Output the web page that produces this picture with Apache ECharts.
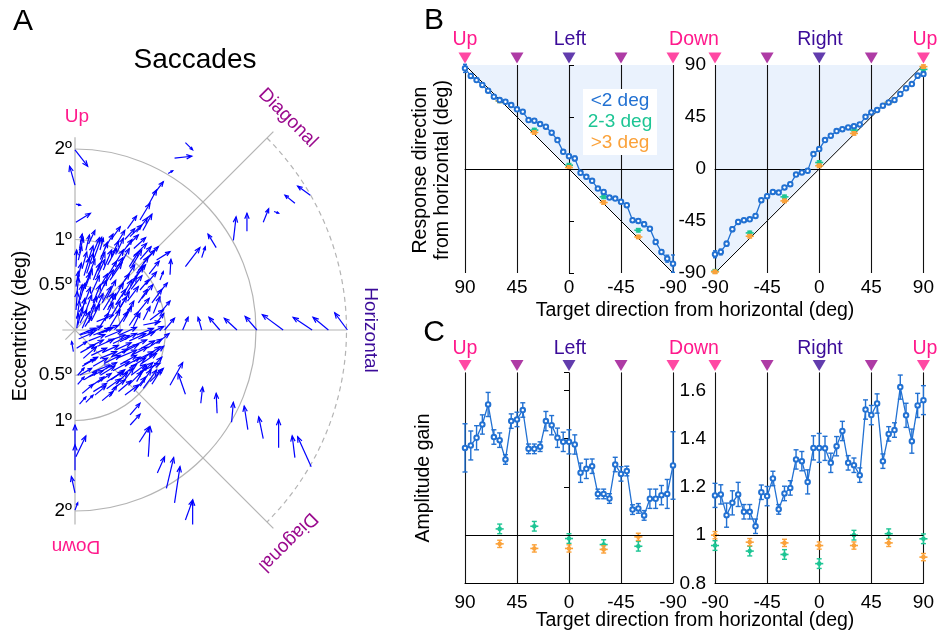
<!DOCTYPE html>
<html>
<head>
<meta charset="utf-8">
<script src="https://cdn.jsdelivr.net/npm/echarts@6.0.0/dist/echarts.min.js"></script>
<style>
  html, body { margin: 0; padding: 0; background: #fff; }
  #main { width: 937px; height: 631px; }
</style>
</head>
<body>
<div id="main"></div>
<script>
// ---- panel A: saccade vectors, [x0, y0, x1, y1] in deg (tail -> head)
const outerArrows = [
  [0.00,1.99,0.14,1.81],[0.00,1.60,-0.06,1.81],[1.22,2.07,1.30,1.99],[1.10,1.90,1.29,1.92],
  [1.03,1.73,1.08,1.76],[0.01,1.19,0.17,1.29],[0.01,1.39,0.06,1.38],[1.56,0.91,1.47,1.06],
  [1.22,0.70,1.38,0.91],[1.40,0.80,1.44,0.92],[1.75,0.99,1.78,1.25],[1.90,1.09,1.90,1.29],
  [2.08,1.19,2.14,1.34],[2.20,1.31,2.25,1.29],[2.43,1.40,2.32,1.49],[2.60,1.49,2.46,1.59],
  [1.05,0.61,1.06,0.78],
  [0.99,0,1.10,0.13],[1.19,0,1.25,0.14],[1.40,0,1.36,0.14],[1.60,0,1.48,0.14],
  [1.79,0,1.65,0.13],[2.01,0,1.88,0.15],[2.30,0,2.07,0.17],[2.62,0,2.41,0.14],
  [2.80,0,2.63,0.14],[3.01,0,2.87,0.19],
  [1.22,-0.71,1.14,-0.48],[1.05,-0.61,1.19,-0.36],[1.39,-0.81,1.41,-0.63],[1.57,-0.92,1.56,-0.70],
  [1.73,-1.02,1.75,-0.80],[1.91,-1.10,1.87,-0.84],[2.08,-1.20,2.03,-0.96],[2.25,-1.30,2.25,-0.99],
  [2.43,-1.41,2.40,-1.17],[2.61,-1.51,2.46,-1.18],[0.61,-1.05,0.72,-0.93],[0.81,-1.40,0.83,-1.07],
  [0.71,-1.24,0.82,-1.07],[0.91,-1.58,0.99,-1.40],[1.01,-1.75,1.09,-1.41],[1.10,-1.91,1.16,-1.51],
  [1.22,-2.10,1.30,-1.88],[1.30,-2.15,1.30,-1.88],[0.00,-1.55,0.00,-1.27],[0.00,-1.27,0.00,-1.05],
  [0.01,-1.40,0.12,-1.17],[0.00,-1.80,-0.04,-1.62],[0.00,-1.99,0.03,-1.91]
]
const denseUpperArrows = [
  [0.011,0.221,0.026,0.424],[0.011,0.479,0.037,0.645],[0.011,0.700,0.018,0.884],[0.110,0.184,0.184,0.387],
  [0.092,0.442,0.166,0.626],[0.129,0.626,0.203,0.847],[0.203,0.773,0.295,1.024],[0.239,0.331,0.350,0.552],
  [0.313,0.479,0.424,0.663],[0.387,0.552,0.516,0.737],[0.424,0.700,0.534,0.884],[0.460,0.847,0.534,1.013],
  [0.571,0.921,0.700,1.050],[0.608,1.031,0.737,1.160],[0.718,1.215,0.829,1.400],[0.810,1.381,0.902,1.547],
  [0.866,1.492,0.976,1.639],[0.516,0.368,0.626,0.552],[0.626,0.516,0.755,0.700],[0.681,0.626,0.810,0.810],
  [0.755,0.737,0.884,0.884],[0.902,0.773,1.050,0.866],[0.939,0.552,0.976,0.645],[0.755,0.110,0.829,0.258],
  [0.866,0.184,0.939,0.368],[0.829,0.110,0.976,0.221],[0.276,0.037,0.368,0.184],[0.387,0.037,0.497,0.221],
  [0.534,0.092,0.626,0.258],[0.645,0.037,0.718,0.184],[0.055,0.074,0.129,0.221],[0.166,0.184,0.239,0.368],
  [0.313,0.221,0.424,0.405],[0.424,0.331,0.534,0.516],[0.055,0.331,0.110,0.516],[0.203,0.552,0.276,0.737],
  [0.313,0.663,0.405,0.884],[0.037,0.773,0.074,0.921],[0.571,0.405,0.681,0.589],[0.718,0.442,0.810,0.552],
  [0.110,0.037,0.184,0.147],[0.460,0.184,0.571,0.368],[0.276,0.884,0.313,1.013],[0.626,0.700,0.737,0.884],
  [0.645,0.810,0.792,0.958],[0.03,0.05,0.08,0.25],[0.15,0.08,0.22,0.28],[0.20,0.30,0.28,0.50],
  [0.33,0.10,0.42,0.30],[0.50,0.25,0.60,0.42],[0.35,0.35,0.45,0.55],[0.10,0.60,0.16,0.80],
  [0.25,0.65,0.33,0.86],[0.55,0.55,0.66,0.72],[0.40,0.80,0.48,0.98],[0.05,0.85,0.09,1.02],
  [0.70,0.30,0.80,0.45],[0.60,0.70,0.70,0.86],[0.15,0.95,0.22,1.10],
  [0.02,0.12,0.05,0.32],[0.04,0.30,0.08,0.50],[0.03,0.55,0.07,0.74],[0.05,0.90,0.08,1.06],
  [0.08,0.02,0.16,0.20],[0.10,0.28,0.17,0.47],[0.12,0.48,0.19,0.67],[0.14,0.75,0.20,0.93],
  [0.18,0.10,0.27,0.28],[0.22,0.20,0.31,0.40],[0.18,0.40,0.27,0.60],[0.26,0.45,0.36,0.62],
  [0.30,0.30,0.40,0.48],[0.24,0.58,0.33,0.78],[0.35,0.58,0.46,0.76],[0.28,0.78,0.36,0.97],
  [0.36,0.72,0.46,0.90],[0.40,0.15,0.50,0.32],[0.45,0.28,0.56,0.45],[0.48,0.45,0.60,0.62],
  [0.42,0.62,0.53,0.80],[0.50,0.72,0.60,0.90],[0.55,0.15,0.65,0.32],[0.58,0.32,0.70,0.48],
  [0.62,0.45,0.74,0.60],[0.66,0.58,0.78,0.72],[0.52,0.85,0.63,1.00],[0.70,0.20,0.82,0.35],
  [0.74,0.35,0.86,0.50],[0.78,0.50,0.90,0.64],[0.72,0.78,0.84,0.92],[0.82,0.62,0.93,0.76],
  [0.85,0.30,0.96,0.45],[0.88,0.05,0.98,0.18],[0.60,0.05,0.70,0.20],[0.48,0.05,0.58,0.20],
  [0.36,0.22,0.45,0.40],[0.15,0.60,0.22,0.78],[0.08,0.68,0.13,0.86],[0.02,0.40,0.04,0.58],
  [0.07,0.15,0.11,0.35],[0.20,0.85,0.27,1.02],[0.33,0.90,0.42,1.06],[0.40,1.00,0.50,1.14],
  [0.55,1.00,0.66,1.12],[0.46,0.95,0.55,1.10],[0.65,0.90,0.78,1.02],[0.80,0.80,0.92,0.92],
  [0.92,0.40,1.02,0.52],[0.95,0.20,1.05,0.32],[0.02,0.02,0.04,0.18],[0.12,0.88,0.16,1.05],
  [0.68,1.08,0.80,1.24],[0.75,1.10,0.85,1.28],[0.58,1.12,0.68,1.26]
]
const denseLowerArrows = [
  [0.129,-0.203,0.313,-0.110],[0.092,-0.313,0.239,-0.184],[0.203,-0.055,0.387,0.018],[0.350,-0.129,0.552,-0.055],
  [0.239,0.092,0.424,0.166],[0.497,-0.129,0.681,-0.037],[0.571,-0.203,0.792,-0.110],[0.681,-0.055,0.866,0.018],
  [0.755,0.055,0.939,0.092],[0.276,-0.313,0.460,-0.239],[0.460,-0.313,0.681,-0.221],[0.645,-0.350,0.866,-0.239],
  [0.718,-0.460,0.939,-0.368],[0.829,-0.571,0.976,-0.424],[0.203,-0.460,0.387,-0.387],[0.055,-0.497,0.184,-0.424],
  [0.350,-0.571,0.534,-0.460],[0.203,-0.681,0.350,-0.589],[0.405,-0.663,0.552,-0.552],[0.552,-0.718,0.700,-0.608],
  [0.681,-0.571,0.792,-0.387],[0.534,-0.571,0.645,-0.424],[0.755,-0.645,0.902,-0.442],[0.055,-0.055,0.239,0.0],
  [0.018,-0.203,0.129,-0.129],[-0.018,-0.239,-0.037,-0.129],[0.755,-0.313,0.939,-0.184],[0.608,-0.939,0.718,-0.810],
  [0.05,-0.05,0.22,0.02],[0.30,-0.03,0.48,0.05],[0.45,-0.22,0.62,-0.14],[0.10,-0.38,0.25,-0.30],
  [0.30,-0.45,0.46,-0.36],[0.55,-0.40,0.72,-0.30],[0.62,-0.50,0.78,-0.38],[0.25,-0.58,0.40,-0.48],
  [0.45,-0.60,0.58,-0.47],[0.65,-0.68,0.78,-0.52],[0.80,-0.20,0.96,-0.10],[0.03,-0.60,0.10,-0.52],
  [0.70,-0.10,0.88,-0.02],
  [0.04,-0.10,0.20,-0.03],[0.06,-0.25,0.22,-0.16],[0.08,-0.40,0.22,-0.32],[0.10,-0.55,0.24,-0.46],
  [0.08,-0.70,0.20,-0.60],[0.15,-0.12,0.33,-0.05],[0.18,-0.28,0.35,-0.20],[0.20,-0.40,0.36,-0.31],
  [0.15,-0.52,0.31,-0.45],[0.18,-0.62,0.32,-0.52],[0.25,-0.18,0.43,-0.10],[0.30,-0.25,0.48,-0.17],
  [0.32,-0.37,0.50,-0.28],[0.28,-0.50,0.44,-0.40],[0.35,-0.65,0.50,-0.54],[0.33,-0.08,0.52,0.00],
  [0.42,-0.15,0.60,-0.06],[0.40,-0.30,0.58,-0.21],[0.42,-0.45,0.60,-0.35],[0.40,-0.55,0.55,-0.44],
  [0.50,-0.05,0.68,0.03],[0.52,-0.25,0.70,-0.16],[0.50,-0.38,0.68,-0.28],[0.52,-0.50,0.68,-0.38],
  [0.48,-0.68,0.62,-0.56],[0.60,-0.12,0.78,-0.04],[0.62,-0.28,0.80,-0.19],[0.60,-0.42,0.78,-0.31],
  [0.60,-0.60,0.74,-0.46],[0.70,-0.22,0.88,-0.12],[0.72,-0.38,0.90,-0.26],[0.70,-0.50,0.86,-0.36],
  [0.72,-0.62,0.84,-0.44],[0.80,-0.05,0.98,0.04],[0.82,-0.30,0.98,-0.18],[0.82,-0.45,0.96,-0.30],
  [0.85,-0.60,0.95,-0.44],[0.90,-0.15,1.04,-0.04],[0.12,-0.02,0.30,0.04],[0.25,-0.05,0.42,0.03],
  [0.03,-0.50,0.10,-0.42],[0.05,-0.82,0.12,-0.74],[0.22,-0.72,0.34,-0.62],[0.30,-0.78,0.42,-0.68],
  [0.38,-0.74,0.46,-0.62],[0.12,-0.80,0.20,-0.72]
]
const ringRadii = [0.5, 1, 2]        // deg, solid half circles
const outerRingRadius = 3            // deg, dashed arc
const eccTicks = ['2º', '1º', '0.5º', '0.5º', '1º', '2º']
const eccTickVals = [2, 1, 0.5, -0.5, -1, -2]

// ---- panels B/C: target directions (deg)
const dirsLeft = [90,85,80,75,70,65,60,55,50,45,40,35,30,25,20,15,10,5,0,-5,-10,-15,-20,-25,-30,-35,-40,-45,-50,-55,-60,-65,-70,-75,-80,-85,-90]
const dirsRight = [-90,-85,-80,-75,-70,-65,-60,-55,-50,-45,-40,-35,-30,-25,-20,-15,-10,-5,0,5,10,15,20,25,30,35,40,45,50,55,60,65,70,75,80,85,90]
const coarseLeft = [60, 30, 0, -30, -60]
const coarseRight = [-90, -60, -30, 0, 30, 60, 90]
const markerDirs = [90, 45, 0, -45, -90]
const markerColors = ['#ff1a8c', '#9a0a8e', '#3b0b99', '#9a0a8e', '#ff1a8c']

// B: response direction
const respLeft = [87.1,80.5,77,72.7,67.8,62.6,59.7,58.2,55.3,51.6,49.6,42.3,41.8,38.9,36.6,31.4,25,14.9,11.1,9.1,-3.3,-6.8,-10.2,-16.9,-19.8,-24.7,-25.6,-28.4,-31.3,-44.3,-44.9,-47.8,-51.6,-63.1,-71.8,-77.6,-81.9]
const respLeftErr = [3.5,2,1.5,1.5,1.5,1.5,1.5,1.5,1.5,1.5,1.5,1.5,1.5,1.5,1.5,1.5,1.5,1.5,1.5,2,1.5,1.5,1.5,1.5,1.5,1.5,1.5,1.5,1.5,1.5,1.5,2,1.5,2,2,3,7.5]
const respRight = [-73.8,-71.8,-64.6,-52.1,-45.8,-44.3,-43.5,-40.6,-27,-23.5,-19.8,-20.4,-16,-13.1,-4.8,-3,-1.6,12.9,17.2,25,28.8,32.8,34.5,36,37.1,38.6,45.2,49,51,54.8,57.6,59.7,64.9,69.8,73.5,80.8,82.2]
const respRightErr = [3,2.5,2,2,2,1.5,1.5,1.5,1.5,1.5,1.5,1.5,1.5,1.5,1.5,1.5,1.5,1.5,1.5,1.5,1.5,1.5,1.5,1.5,1.5,1.5,1.5,1.5,1.5,1.5,1.5,1.5,1.5,1.5,1.5,2,2]
const respMidLeft = [59, 33.7, 3.3, -24.1, -53]
const respFarLeft = [59, 31.6, 1.3, -29, -58.8]
const respMidRight = [-88.5, -55.3, -24.1, 5.6, 33.7, 57.6, 86.2]
const respFarRight = [-89, -58.2, -27.6, 2.8, 30.8, 57.6, 88.6]

// C: amplitude gain
const gainLeft = [1.362,1.372,1.404,1.459,1.542,1.407,1.394,1.314,1.473,1.480,1.519,1.358,1.358,1.367,1.473,1.456,1.404,1.387,1.387,1.376,1.259,1.275,1.286,1.171,1.171,1.152,1.293,1.254,1.266,1.106,1.111,1.082,1.151,1.151,1.166,1.171,1.289]
const gainLeftErr = [0.1,0.06,0.05,0.04,0.05,0.03,0.03,0.02,0.03,0.03,0.03,0.02,0.02,0.02,0.04,0.04,0.04,0.04,0.05,0.04,0.04,0.04,0.03,0.02,0.02,0.02,0.03,0.03,0.02,0.02,0.02,0.02,0.04,0.04,0.04,0.06,0.14]
const gainRight = [1.165,1.169,1.083,1.134,1.169,1.097,1.097,1.037,1.178,1.162,1.235,1.107,1.173,1.196,1.314,1.307,1.221,1.362,1.362,1.360,1.300,1.369,1.432,1.300,1.290,1.249,1.521,1.498,1.546,1.307,1.420,1.436,1.614,1.497,1.390,1.538,1.560]
const gainRightErr = [0.05,0.04,0.05,0.05,0.05,0.03,0.03,0.03,0.03,0.04,0.03,0.02,0.03,0.03,0.04,0.04,0.05,0.05,0.06,0.05,0.04,0.04,0.04,0.03,0.03,0.03,0.04,0.04,0.04,0.03,0.03,0.03,0.05,0.05,0.05,0.05,0.06]
const gainMidLeft = [1.026, 1.037, 0.986, 0.961, 0.954]
const gainFarLeft = [0.964, 0.945, 0.945, 0.941, 0.993]
const gainMidRight = [0.957, 0.934, 0.920, 0.882, 1.0, 1.006, 0.985]
const gainFarRight = [1.0, 0.971, 0.968, 0.957, 0.957, 0.968, 0.909]

// ---- styles
const FONT = 'Liberation Sans, Arial, sans-serif'
const BLUE = '#2271d2', GREEN = '#1dc594', ORANGE = '#fba23a'
const PINK = '#ff1a8c', PURPLE = '#9a0a8e', INDIGO = '#3b0b99'
const ARROW = '#0000ff', GUIDE = '#b4b4b4'
const A_CX = 75, A_CY = 330, A_S = 90.5   // panel A centre (px) and px per deg
const C_MIN = 0.8, C_MAX = 1.675
const TICK_FS = 19, TITLE_FS = 19.5

const zip = (xs, ys) => xs.map((x, i) => [x, ys[i]])
const seg = (x1, y1, x2, y2, color, w) => ({ type: 'line', shape: { x1, y1, x2, y2 }, style: { stroke: color, lineWidth: w } })

function arrowSeries(list) {
  return {
    type: 'custom', xAxisIndex: 0, yAxisIndex: 0, clip: false, silent: true, z: 5,
    encode: { x: [0, 2], y: [1, 3] },
    data: list,
    renderItem(params, api) {
      const p0 = api.coord([api.value(0), api.value(1)])
      const p1 = api.coord([api.value(2), api.value(3)])
      const len = Math.hypot(p1[0] - p0[0], p1[1] - p0[1])
      const ang = Math.atan2(p1[1] - p0[1], p1[0] - p0[0])
      const h = Math.max(2.5, Math.min(6, len * 0.33))
      const a1 = ang + Math.PI - 0.38, a2 = ang + Math.PI + 0.38
      return {
        type: 'group', children: [
          seg(p0[0], p0[1], p1[0], p1[1], ARROW, 1.2),
          { type: 'polyline', shape: { points: [[p1[0] + h * Math.cos(a1), p1[1] + h * Math.sin(a1)], p1, [p1[0] + h * Math.cos(a2), p1[1] + h * Math.sin(a2)]] },
            style: { stroke: ARROW, fill: null, lineWidth: 1.2 } }
        ]
      }
    }
  }
}

function guideSeries() {
  // rings then spokes, drawn in data space of panel A
  const items = ringRadii.map(r => ['ring', r]).concat([['dash', outerRingRadius], ['spokes', 0]])
  return {
    type: 'custom', xAxisIndex: 0, yAxisIndex: 0, clip: false, silent: true, z: 2,
    data: items.map((d, i) => [i, 0]),
    renderItem(params, api) {
      const d = items[params.dataIndex]
      const c = api.coord([0, 0])
      const r = api.size([d[1], 0])[0]
      if (d[0] === 'ring') {
        return { type: 'arc', shape: { cx: c[0], cy: c[1], r, startAngle: -Math.PI / 2, endAngle: Math.PI / 2, clockwise: true },
          style: { stroke: GUIDE, fill: null, lineWidth: 1.2 } }
      }
      if (d[0] === 'dash') {
        return { type: 'arc', shape: { cx: c[0], cy: c[1], r, startAngle: -Math.PI / 4, endAngle: Math.PI / 4, clockwise: true },
          style: { stroke: GUIDE, fill: null, lineWidth: 1.2, lineDash: [5, 4] } }
      }
      const u = api.size([1, 0])[0]
      const k = Math.SQRT1_2
      return {
        type: 'group', children: [
          seg(c[0] - 0.14 * u, c[1], c[0] + 3.0 * u, c[1], GUIDE, 1.2),
          seg(c[0], c[1] - 2.13 * u, c[0], c[1] + 2.15 * u, GUIDE, 1.2),
          seg(c[0] - 0.15 * u * k, c[1] + 0.15 * u * k, c[0] + 3.1 * u * k, c[1] - 3.1 * u * k, GUIDE, 1.2),
          seg(c[0] - 0.15 * u * k, c[1] - 0.15 * u * k, c[0] + 3.1 * u * k, c[1] + 3.1 * u * k, GUIDE, 1.2)
        ]
      }
    }
  }
}

function vErr(ax, xs, ys, es, color, cap) {
  return {
    type: 'custom', xAxisIndex: ax, yAxisIndex: ax, clip: false, silent: true, z: 4,
    encode: { x: 0, y: 1 },
    data: xs.map((x, i) => [x, ys[i], es[i]]),
    renderItem(params, api) {
      const x = api.value(0), y = api.value(1), e = api.value(2)
      const lo = api.coord([x, y - e]), hi = api.coord([x, y + e])
      return {
        type: 'group', children: [
          seg(lo[0], lo[1], hi[0], hi[1], color, 1.4),
          seg(lo[0] - cap, lo[1], lo[0] + cap, lo[1], color, 1.4),
          seg(hi[0] - cap, hi[1], hi[0] + cap, hi[1], color, 1.4)
        ]
      }
    }
  }
}

function crossErr(ax, xs, ys, xe, ye, color) {
  return {
    type: 'custom', xAxisIndex: ax, yAxisIndex: ax, clip: false, silent: true, z: 4,
    encode: { x: 0, y: 1 },
    data: xs.map((x, i) => [x, ys[i]]),
    renderItem(params, api) {
      const x = api.value(0), y = api.value(1)
      const l = api.coord([x - xe, y]), r = api.coord([x + xe, y])
      const b = api.coord([x, y - ye]), t = api.coord([x, y + ye])
      const p = api.coord([x, y])
      return {
        type: 'group', children: [
          seg(l[0], l[1], r[0], r[1], color, 1.6),
          seg(b[0], b[1], t[0], t[1], color, 1.6),
          seg(b[0] - 2.5, b[1], b[0] + 2.5, b[1], color, 1.4),
          seg(t[0] - 2.5, t[1], t[0] + 2.5, t[1], color, 1.4),
          { type: 'circle', shape: { cx: p[0], cy: p[1], r: 2.3 }, style: { fill: color } }
        ]
      }
    }
  }
}

function blueLine(ax, xs, ys, mark) {
  return {
    type: 'line', xAxisIndex: ax, yAxisIndex: ax, data: zip(xs, ys), z: 5,
    symbol: 'emptyCircle', symbolSize: 4.5, showSymbol: true, silent: true,
    lineStyle: { color: BLUE, width: 1.3 }, itemStyle: { color: BLUE, borderWidth: 1.2 },
    markLine: { silent: true, symbol: 'none', label: { show: false },
      lineStyle: { color: '#000', width: 1, type: 'solid' }, data: [{ yAxis: mark }] },
    animation: false
  }
}

function diagFill(ax, from, to) {
  return {
    type: 'line', xAxisIndex: ax, yAxisIndex: ax, z: -1, silent: true, symbol: 'none',
    data: [[from, from], [to, to]],
    lineStyle: { color: '#000', width: 1 },
    areaStyle: { color: '#eaf2fd', origin: 'end', opacity: 1 }
  }
}

function triangles(ax, yTop) {
  return {
    type: 'scatter', xAxisIndex: ax, yAxisIndex: ax, clip: false, silent: true, z: 6,
    symbol: 'triangle', symbolRotate: 180, symbolSize: [13, 11], symbolOffset: [0, -7],
    data: markerDirs.map((d, i) => ({ value: [d, yTop], itemStyle: { color: markerColors[i] } }))
  }
}

const xAxisBC = (grid, inverse, margin) => ({
  gridIndex: grid, type: 'value', min: -90, max: 90, interval: 45, inverse,
  axisLine: { show: true, lineStyle: { color: '#000', width: 1 } },
  axisTick: { show: false },
  axisLabel: { color: '#000', fontSize: TICK_FS, fontFamily: FONT, margin },
  splitLine: { show: true, lineStyle: { color: '#111', width: 1.1 } }
})

const yAxisLabelled = (grid, min, max, interval) => ({
  gridIndex: grid, type: 'value', min, max, interval, position: 'left',
  axisLine: { show: false }, axisTick: { show: false }, splitLine: { show: false },
  axisLabel: { color: '#000', fontSize: TICK_FS, fontFamily: FONT, margin: 9, showMaxLabel: max === 90 }
})

const yAxisTicksOnly = (grid, min, max, interval, inside) => ({
  gridIndex: grid, type: 'value', min, max, interval, position: 'right',
  axisLine: { show: false }, splitLine: { show: false }, axisLabel: { show: false },
  axisTick: { show: true, inside, length: 5, lineStyle: { color: '#000' } }
})

const txt = (text, x, y, size, color, rot, align) => ({
  type: 'text', x, y, rotation: rot || 0, silent: true,
  style: { text, font: size + 'px ' + FONT, fill: color || '#000',
    align: align || 'center', verticalAlign: 'middle', textAlign: align || 'center', textVerticalAlign: 'middle' }
})

const graphics = [
  txt('A', 23, 22, 30), txt('B', 434, 21, 30), txt('C', 434, 333, 30),
  txt('Saccades', 195, 60, 28),
  txt('Eccentricity (deg)', 21, 326, TITLE_FS, '#000', Math.PI / 2),
  txt('Up', 77, 117, 19, PINK),
  txt('Down', 76, 546, 19, PINK, Math.PI),
  txt('Diagonal', 288, 118, 19, PURPLE, -Math.PI / 4),
  txt('Diagonal', 288, 542, 19, PURPLE, -3 * Math.PI / 4),
  txt('Horizontal', 370, 330, 19, INDIGO, -Math.PI / 2),
  txt('Response direction', 421, 170, TITLE_FS, '#000', Math.PI / 2),
  txt('from horizontal (deg)', 443, 170, TITLE_FS, '#000', Math.PI / 2),
  txt('Amplitude gain', 424, 478, TITLE_FS, '#000', Math.PI / 2),
  txt('Target direction from horizontal (deg)', 695, 311, TITLE_FS),
  txt('Target direction from horizontal (deg)', 695, 621, TITLE_FS),
  { type: 'rect', shape: { x: 583, y: 89, width: 74, height: 66 }, style: { fill: '#fff' }, z: 50 },
  Object.assign(txt('<2 deg', 620, 101, 19, BLUE), { z: 51 }),
  Object.assign(txt('2-3 deg', 620, 122, 19, GREEN), { z: 51 }),
  Object.assign(txt('>3 deg', 620, 143, 19, ORANGE), { z: 51 })
]
eccTicks.forEach((t, i) => graphics.push(txt(t, 72, A_CY - eccTickVals[i] * A_S, 19, '#000', 0, 'right')))
;[40, 349].forEach(y => {
  graphics.push(txt('Up', 465, y, 19.5, PINK), txt('Left', 570, y, 19.5, INDIGO), txt('Down', 694, y, 19.5, PINK),
    txt('Right', 820, y, 19.5, INDIGO), txt('Up', 925, y, 19.5, PINK))
})

const option = {
  animation: false,
  backgroundColor: '#fff',
  textStyle: { fontFamily: FONT },
  grid: [
    { left: A_CX - 0.5 * A_S, top: A_CY - 2.5 * A_S, width: 4 * A_S, height: 5 * A_S },
    { left: 465, top: 65, width: 208, height: 208 },
    { left: 715, top: 65, width: 210, height: 208 },
    { left: 465, top: 372.4, width: 208, height: 211 },
    { left: 715, top: 372.4, width: 210, height: 211 }
  ],
  xAxis: [
    { gridIndex: 0, type: 'value', min: -0.5, max: 3.5, show: false },
    xAxisBC(1, true, 5), xAxisBC(2, false, 5), xAxisBC(3, true, 10), xAxisBC(4, false, 10)
  ],
  yAxis: [
    { gridIndex: 0, type: 'value', min: -2.5, max: 2.5, show: false },
    yAxisTicksOnly(1, -90, 90, 45, false),
    yAxisLabelled(2, -90, 90, 45),
    yAxisTicksOnly(3, C_MIN, C_MAX, 0.2, true),
    yAxisLabelled(4, C_MIN, C_MAX, 0.2)
  ],
  graphic: graphics,
  series: [
    guideSeries(),
    arrowSeries(outerArrows), arrowSeries(denseUpperArrows), arrowSeries(denseLowerArrows),

    diagFill(1, 90, -90), diagFill(2, -90, 90),
    crossErr(1, coarseLeft, respMidLeft, 3.5, 1.5, GREEN), crossErr(1, coarseLeft, respFarLeft, 3.5, 1.5, ORANGE),
    crossErr(2, coarseRight, respMidRight, 3.5, 1.5, GREEN), crossErr(2, coarseRight, respFarRight, 3.5, 1.5, ORANGE),
    vErr(1, dirsLeft, respLeft, respLeftErr, BLUE, 2), blueLine(1, dirsLeft, respLeft, 0),
    vErr(2, dirsRight, respRight, respRightErr, BLUE, 2), blueLine(2, dirsRight, respRight, 0),
    triangles(1, 90), triangles(2, 90),

    crossErr(3, coarseLeft, gainMidLeft, 3.5, 0.02, GREEN), crossErr(3, coarseLeft, gainFarLeft, 3.5, 0.015, ORANGE),
    crossErr(4, coarseRight, gainMidRight, 3.5, 0.02, GREEN), crossErr(4, coarseRight, gainFarRight, 3.5, 0.015, ORANGE),
    vErr(3, dirsLeft, gainLeft, gainLeftErr, BLUE, 2.5), blueLine(3, dirsLeft, gainLeft, 1),
    vErr(4, dirsRight, gainRight, gainRightErr, BLUE, 2.5), blueLine(4, dirsRight, gainRight, 1),
    triangles(3, C_MAX), triangles(4, C_MAX)
  ]
}

const chart = echarts.init(document.getElementById('main'))
chart.setOption(option)
</script>
</body>
</html>
